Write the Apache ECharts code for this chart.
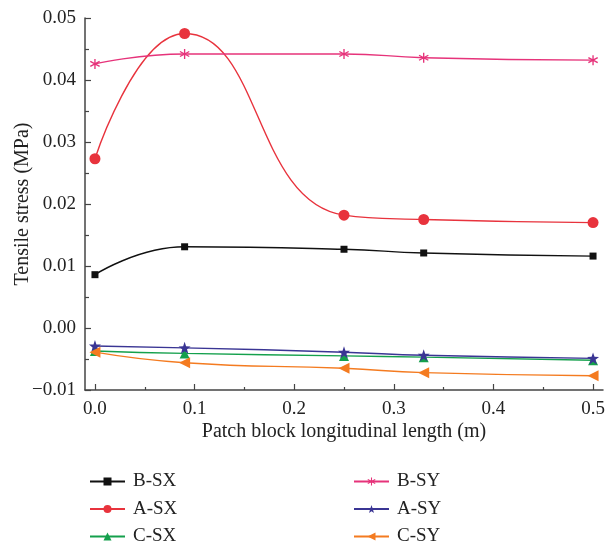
<!DOCTYPE html>
<html>
<head>
<meta charset="utf-8">
<script src="https://cdn.jsdelivr.net/npm/echarts@6/dist/echarts.min.js"></script>
<style>
  html, body { margin: 0; padding: 0; background: #fff; }
  #chart { width: 616px; height: 545px; }
</style>
</head>
<body>
<div id="chart"></div>
<script>
// patch block longitudinal length (m)
const lengths = [0, 0.09, 0.25, 0.33, 0.5]

// tensile stress (MPa)
const bSX = [0.0086, 0.0131, 0.0127, 0.0121, 0.0116]
const aSX = [0.0273, 0.0475, 0.0182, 0.0175, 0.0170]
const cSX = [-0.0037, -0.0041, -0.0045, -0.0047, -0.0052]
const bSY = [0.0426, 0.0442, 0.0442, 0.0436, 0.0432]
const aSY = [-0.0029, -0.0032, -0.0039, -0.0044, -0.0049]
const cSY = [-0.0039, -0.0056, -0.0065, -0.0072, -0.0077]

const xTicks = [0, 0.1, 0.2, 0.3, 0.4, 0.5]
const xMinorTicks = [0.05, 0.15, 0.25, 0.35, 0.45]

// legend layout: two columns of three rows
const legendColumns = [['B-SX', 'A-SX', 'C-SX'], ['B-SY', 'A-SY', 'C-SY']]

const font = 'Liberation Serif'
const axisColor = '#444'

const asterisk = 'path://M-1,-8L1,-8L1,8L-1,8Z' +
  'M6.428,4.866L-7.428,-3.134L-6.428,-4.866L7.428,3.134Z' +
  'M7.428,-3.134L-6.428,4.866L-7.428,3.134L6.428,-4.866Z'
const star = 'path://M0,-10L2.351,-3.236L9.511,-3.09L3.804,1.236L5.878,8.09' +
  'L0,4L-5.878,8.09L-3.804,1.236L-9.511,-3.09L-2.351,-3.236Z'

function pairs(ys) {
  return lengths.map((x, i) => [x, ys[i]])
}

function makeSeries(name, ys, color, symbol, size, rotate) {
  return {
    name: name,
    type: 'line',
    xAxisIndex: 0,
    data: pairs(ys),
    smooth: true,
    symbol: symbol,
    symbolSize: size,
    symbolRotate: rotate || 0,
    showSymbol: true,
    lineStyle: { color: color, width: 1.4 },
    itemStyle: { color: color },
    emphasis: { disabled: true }
  }
}

const chart = echarts.init(document.getElementById('chart'))

const legendText = { fontFamily: font, fontSize: 19, color: '#222', padding: [0, 0, 0, 3] }

// one legend per row so nothing wraps
const legends = []
legendColumns.forEach((col, c) => {
  col.forEach((name, r) => {
    legends.push({
      orient: 'horizontal',
      left: c === 0 ? 84 : 348,
      top: 467 + r * 27.5,
      itemWidth: 35,
      itemHeight: 10,
      textStyle: legendText,
      data: [name]
    })
  })
})

chart.setOption({
  animation: false,
  backgroundColor: '#fff',
  grid: { left: 85, right: 13, top: 18, bottom: 155, outerBoundsMode: 'none', containLabel: false },
  legend: legends,
  xAxis: [
    {
      type: 'value',
      min: -0.01,
      max: 0.51,
      position: 'bottom',
      name: 'Patch block longitudinal length (m)',
      nameLocation: 'middle',
      nameGap: 32,
      nameMoveOverlap: false,
      nameTextStyle: { fontFamily: font, fontSize: 20, color: '#222' },
      axisLine: { onZero: false, lineStyle: { color: axisColor, width: 1.5 } },
      axisTick: { inside: true, length: 6, customValues: xTicks, lineStyle: { color: axisColor, width: 1.2 } },
      axisLabel: {
        customValues: xTicks,
        margin: 10,
        fontFamily: font,
        fontSize: 19,
        color: '#222',
        formatter: v => v.toFixed(1)
      },
      splitLine: { show: false }
    },
    {
      type: 'value',
      min: -0.01,
      max: 0.51,
      position: 'bottom',
      axisLine: { show: false, onZero: false },
      axisTick: { inside: true, length: 3, customValues: xMinorTicks, lineStyle: { color: axisColor, width: 1.2 } },
      axisLabel: { show: false },
      splitLine: { show: false }
    }
  ],
  yAxis: {
    type: 'value',
    min: -0.01,
    max: 0.05,
    interval: 0.01,
    name: 'Tensile stress (MPa)',
    nameLocation: 'middle',
    nameGap: 52,
    nameMoveOverlap: false,
    nameTextStyle: { fontFamily: font, fontSize: 20, color: '#222' },
    axisLine: { show: true, onZero: false, lineStyle: { color: axisColor, width: 1.5 } },
    axisTick: { show: true, inside: true, length: 6, lineStyle: { color: axisColor, width: 1.2 } },
    minorTick: { show: true, splitNumber: 2, length: 4, lineStyle: { color: axisColor, width: 1.2 } },
    axisLabel: {
      margin: 9,
      fontFamily: font,
      fontSize: 19,
      color: '#222',
      formatter: v => v.toFixed(2).replace('-', '\u2212')
    },
    splitLine: { show: false }
  },
  series: [
    makeSeries('B-SX', bSX, '#111111', 'rect', 7),
    makeSeries('A-SX', aSX, '#e8333d', 'circle', 11),
    makeSeries('C-SX', cSX, '#14a04c', 'triangle', 10),
    makeSeries('B-SY', bSY, '#e6337a', asterisk, 10),
    makeSeries('A-SY', aSY, '#3a3594', star, 12),
    makeSeries('C-SY', cSY, '#f47b20', 'triangle', 11, 90)
  ]
})
</script>
</body>
</html>
